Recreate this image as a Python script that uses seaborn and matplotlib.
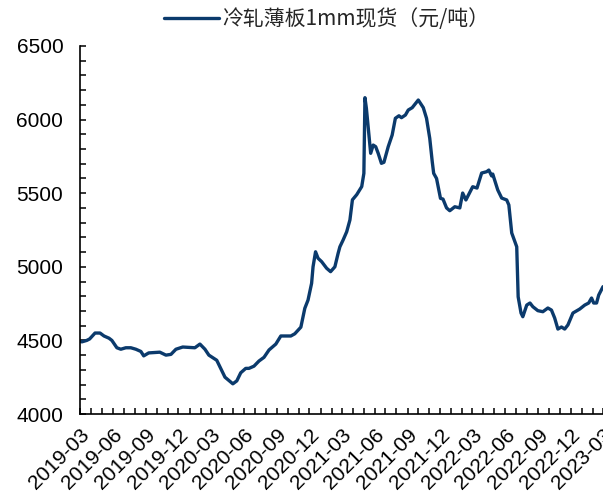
import matplotlib
matplotlib.use("Agg")
import matplotlib.pyplot as plt
import matplotlib.dates as mdates
from matplotlib.font_manager import FontProperties
import seaborn as sns
import pandas as pd

dates = [
    "2019-03-01", "2019-03-06", "2019-03-20", "2019-03-28", "2019-04-12", "2019-04-26",
    "2019-05-07", "2019-05-21", "2019-05-29", "2019-06-12", "2019-06-23", "2019-07-07",
    "2019-07-21", "2019-08-04", "2019-08-18", "2019-08-26", "2019-09-09", "2019-10-10",
    "2019-10-27", "2019-11-10", "2019-11-24", "2019-12-13", "2020-01-16", "2020-01-30",
    "2020-02-13", "2020-02-24", "2020-03-17", "2020-03-26", "2020-04-09", "2020-05-01",
    "2020-05-12", "2020-05-23", "2020-06-06", "2020-06-15", "2020-06-29", "2020-07-13",
    "2020-07-27", "2020-08-10", "2020-08-29", "2020-09-12", "2020-10-10", "2020-10-21",
    "2020-11-07", "2020-11-18", "2020-11-27", "2020-12-07", "2020-12-11", "2020-12-18",
    "2020-12-25", "2021-01-04", "2021-01-18", "2021-01-29", "2021-02-10", "2021-02-19",
    "2021-02-24", "2021-03-05", "2021-03-15", "2021-03-24", "2021-03-31", "2021-04-12",
    "2021-04-26", "2021-05-02", "2021-05-05", "2021-05-09", "2021-05-16", "2021-05-21",
    "2021-05-28", "2021-06-04", "2021-06-11", "2021-06-20", "2021-06-27", "2021-07-09",
    "2021-07-20", "2021-07-29", "2021-08-08", "2021-08-15", "2021-08-26", "2021-09-03",
    "2021-09-14", "2021-10-01", "2021-10-15", "2021-10-24", "2021-11-02", "2021-11-09",
    "2021-11-13", "2021-11-21", "2021-12-02", "2021-12-09", "2021-12-19", "2021-12-28",
    "2022-01-11", "2022-01-25", "2022-02-02", "2022-02-11", "2022-03-02", "2022-03-14",
    "2022-03-27", "2022-04-10", "2022-04-16", "2022-04-24", "2022-04-27", "2022-05-11",
    "2022-05-22", "2022-06-05", "2022-06-11", "2022-06-19", "2022-07-03", "2022-07-07",
    "2022-07-15", "2022-07-20", "2022-07-31", "2022-08-09", "2022-08-17", "2022-08-31",
    "2022-09-14", "2022-09-28", "2022-10-08", "2022-10-17", "2022-10-26", "2022-11-05",
    "2022-11-14", "2022-11-23", "2022-12-07", "2022-12-26", "2023-01-09", "2023-01-20",
    "2023-01-28", "2023-02-03", "2023-02-11", "2023-02-17", "2023-03-01",
]
prices = [
    4495, 4490, 4500, 4510, 4550, 4550,
    4530, 4515, 4500, 4450, 4440, 4450,
    4450, 4440, 4425, 4395, 4415, 4420,
    4400, 4405, 4440, 4455, 4450, 4475,
    4440, 4400, 4365, 4320, 4250, 4205,
    4225, 4280, 4310, 4310, 4325, 4360,
    4385, 4435, 4475, 4530, 4530, 4545,
    4590, 4718, 4774, 4888, 5000, 5102,
    5058, 5035, 4990, 4967, 5000, 5091,
    5136, 5182, 5238, 5318, 5455, 5490,
    5545, 5635, 6149, 6077, 5895, 5771,
    5827, 5816, 5771, 5703, 5710, 5816,
    5895, 6009, 6026, 6013, 6031, 6065,
    6081, 6133, 6081, 6009, 5873, 5714,
    5635, 5600, 5465, 5460, 5400, 5381,
    5408, 5400, 5501, 5454, 5544, 5535,
    5637, 5646, 5657, 5617, 5630, 5522,
    5467, 5454, 5420, 5230, 5136, 4796,
    4686, 4661, 4740, 4754, 4729, 4702,
    4695, 4720, 4706, 4652, 4577, 4591,
    4577, 4605, 4686, 4713, 4740, 4754,
    4788, 4754, 4754, 4808, 4865,
]
series_name = "冷轧薄板1mm现货（元/吨）"
line_color = "#0b3a6c"

sns.set_style("ticks")
plt.rcParams["font.family"] = ["Liberation Sans", "Noto Sans CJK SC", "DejaVu Sans"]

df = pd.DataFrame({"date": pd.to_datetime(dates), "price": prices})

fig = plt.figure(figsize=(6.03, 4.94), dpi=100)
ax = fig.add_axes([80 / 603, 1 - 414 / 494, 1 - 80 / 603, (414 - 46) / 494])

sns.lineplot(data=df, x="date", y="price", ax=ax, color=line_color,
             linewidth=2.4, label=series_name)
ax.get_legend().remove()

ax.set_xlim(pd.Timestamp("2019-03-01"), pd.Timestamp("2023-03-01"))
ax.set_ylim(4000, 6500)
ax.set_yticks([4000, 4500, 5000, 5500, 6000, 6500])
ax.yaxis.set_minor_locator(matplotlib.ticker.MultipleLocator(100))
ax.xaxis.set_major_locator(mdates.MonthLocator(bymonth=[3, 6, 9, 12]))
ax.xaxis.set_major_formatter(mdates.DateFormatter("%Y-%m"))
ax.xaxis.set_minor_locator(mdates.MonthLocator())
ax.set_xlabel("")
ax.set_ylabel("")

for s in ["top", "right"]:
    ax.spines[s].set_visible(False)
for s in ["left", "bottom"]:
    ax.spines[s].set_linewidth(1.2)
    ax.spines[s].set_color("black")

ax.tick_params(axis="both", which="both", direction="in", length=4, width=1.1, colors="black")
ax.tick_params(axis="y", which="major", labelsize=15, pad=12)
ax.tick_params(axis="x", which="major", labelsize=15, pad=8)
for lbl in ax.get_xticklabels():
    lbl.set_rotation(45)
    lbl.set_ha("right")
    lbl.set_rotation_mode("anchor")

legend_font = FontProperties(family=["Noto Sans CJK SC", "Liberation Sans"], size=15)
handles, labels = ax.get_lines(), [series_name]
fig.legend(handles[:1], labels, loc="center", bbox_to_anchor=(327 / 603, 1 - 19 / 494),
           frameon=False, prop=legend_font, handlelength=2.6, handletextpad=0.2,
           borderpad=0, borderaxespad=0)

fig.savefig("out.png", dpi=100)
